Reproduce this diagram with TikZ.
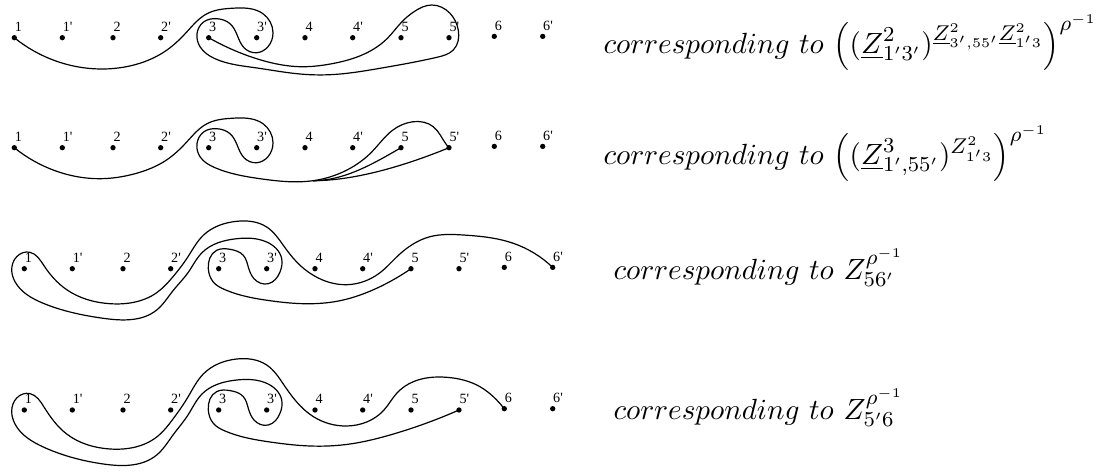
\documentclass[tikz,border=0pt]{standalone}
\usepackage{fontspec}
\usetikzlibrary{hobby}
\newfontfamily\lblfont{Liberation Serif}
\newcommand\mkrow[1]{%
  \foreach \n/\xx/\yy/\lab in {1/14.3/0/1,1p/62.3/0/1',2/113/0/2,2p/160.7/0/2',3/208.7/0/3,3p/256.7/0/3',4/305/0/4,4p/352.7/0/4',5/401/0/5,5p/449/0/5',6/494.3/-1.3/6,6p/542.7/-1.3/6'}
    {\node[pt,label={[lbl]north:\lab}] (#1-\n) at (\xx,\yy) {};}%
}
\begin{document}
\begin{tikzpicture}[x=0.375pt,y=-0.375pt,
  pt/.style={circle,fill=black,inner sep=0pt,minimum size=2pt},
  lbl/.style={anchor=south west,inner sep=0pt,font=\fontsize{5.3}{6}\lblfont},
  label distance=0.9pt,
  wire/.style={line width=0.45pt},
  txt/.style={anchor=base west,inner sep=0pt,font=\fontsize{10.9}{13}\selectfont}]
\useasboundingbox (0,0) rectangle (1113,472);

% ---------- row 1
\begin{scope}[shift={(0,37.7)}]
\mkrow{r1}
\draw[wire,use Hobby shortcut] (r1-3.center) .. (235,13) .. (267,24) .. (300,29) .. (332,26) .. (365,16) .. (388,0) .. (402,-16) .. (414,-26) .. (431.7,-32.7) .. (450,-24.4) .. (458.3,-7.7) .. (453.3,12.3) .. (437,19.6) .. (380,30.6) .. (330,37) .. (300,36.3) .. (255,30) .. (215,21) .. (200,9) .. (197,-4) .. (204,-16) .. (217,-19) .. (230,-14) .. (237,-3) .. (244,10) .. (257,15) .. (268,9) .. (273,-5) .. (263,-24) .. (233,-29.5) .. (207,-24) .. (187,-6) .. (167,12.3) .. (135,27) .. (100,31.3) .. (55,23) .. (r1-1.center);
\end{scope}

% ---------- row 2
\begin{scope}[shift={(0,147.7)}]
\mkrow{r2}
\coordinate (M2) at (313,33);
\draw[wire,use Hobby shortcut] (r2-1.center) .. (55,23) .. (100,31) .. (135,26) .. (167,12) .. (187,-6) .. (207,-24) .. (233,-29.5) .. (263,-24) .. (273,-5) .. (268,9) .. (257,15) .. (244,10) .. (237,-3) .. (230,-14) .. (217,-19) .. (204,-16) .. (197,-4) .. (200,9) .. (215,20) .. (260,31) .. (M2) .. (347,22.3) .. (372,4) .. (392,-17) .. (413.3,-26) .. (433.3,-21) .. (446.7,-2.7) .. (r2-5p.center);
\draw[wire] (M2) .. controls (345,33) and (375,15) .. (r2-5.center);
\draw[wire] (M2) .. controls (360,33) and (415,14) .. (r2-5p.center);
\end{scope}

% ---------- row 3
\begin{scope}[shift={(10,268.7)}]
\mkrow{r3}
\draw[wire,use Hobby shortcut] (r3-6p.center) .. (503.3,-25.4) .. (453.3,-33.7) .. (420,-32) .. (388,-13) .. (370,4) .. (336.7,16) .. (303.3,6.6) .. (286.7,-6.7) .. (273.3,-23.4) .. (256.7,-41.7) .. (226.7,-47.4) .. (193.3,-33.4) .. (178,-12) .. (163,8) .. (146.7,24) .. (100,35) .. (56.7,21) .. (34,-3) .. (20,-16.4) .. (6.7,-12) .. (1.7,1.3) .. (5,13) .. (33.3,34.6) .. (93.3,49.6) .. (146.7,41.3) .. (163,22) .. (178,4) .. (192,-16) .. (226.7,-30) .. (256.7,-26.7) .. (271.7,-10) .. (270,3.3) .. (258.3,15) .. (244,10) .. (238.3,-1.7) .. (233.3,-13.4) .. (220,-19.4) .. (206.7,-18.4) .. (198.3,0) .. (203.3,13.3) .. (215,21) .. (260,32) .. (293.3,35) .. (330,32) .. (370,18) .. (r3-5.center);
\end{scope}

% ---------- row 4
\begin{scope}[shift={(10,410)}]
\mkrow{r4}
\draw[wire,use Hobby shortcut] (r4-6.center) .. (486.7,-10) .. (470,-23.3) .. (436.7,-32.7) .. (403.3,-28.3) .. (386.7,-16.7) .. (374,0) .. (336.7,16) .. (303.3,6.6) .. (286.7,-8) .. (273.3,-26) .. (256.7,-45) .. (226.7,-51) .. (193.3,-36) .. (178,-13) .. (163,9) .. (146.7,27) .. (100,39) .. (56.7,24) .. (34,-3) .. (20,-16.4) .. (6.7,-12) .. (1.7,1.3) .. (5,14) .. (33.3,37) .. (93.3,54) .. (146.7,45) .. (163,25) .. (178,5) .. (192,-16) .. (226.7,-30) .. (256.7,-26.7) .. (271.7,-10) .. (270,3.3) .. (258.3,15) .. (244,10) .. (238.3,-1.7) .. (233.3,-13.4) .. (220,-19.4) .. (206.7,-18.4) .. (198.3,0) .. (203.3,13.3) .. (215,21) .. (260,32) .. (300,36) .. (340,34) .. (380,25) .. (r4-5p.center);
\end{scope}

% ---------- texts
\node[txt] (t1) at (603,53.5) {$corresponding\ to\ \Big((\underline{Z}^2_{1'3'})^{\underline{Z}^2_{3',55'}\underline{Z}^2_{1'3}}\Big)^{\rho^{-1}}$};
\node[txt] (t2) at (603,164.5) {$corresponding\ to\ \Big((\underline{Z}^3_{1',55'})^{Z^2_{1'3}}\Big)^{\rho^{-1}}$};
\node[txt] (t3) at (613,279) {$corresponding\ to\ Z^{\rho^{-1}}_{56'}$};
\node[txt] (t4) at (613,419) {$corresponding\ to\ Z^{\rho^{-1}}_{5'6}$};
\end{tikzpicture}
\end{document}
